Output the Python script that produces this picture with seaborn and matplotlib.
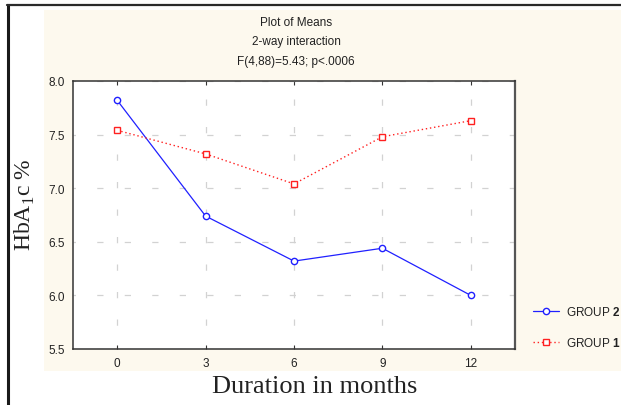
import pandas as pd
import matplotlib
matplotlib.use("Agg")
import matplotlib.pyplot as plt
from matplotlib.lines import Line2D
from matplotlib.patches import Rectangle
import seaborn as sns

# data
months = [0, 3, 6, 9, 12]
group2 = [7.82, 6.74, 6.32, 6.44, 6.00]
group1 = [7.54, 7.32, 7.04, 7.48, 7.63]
group_names = ["GROUP 2", "GROUP 1"]
title_lines = ["Plot of Means", "2-way interaction", "F(4,88)=5.43; p<.0006"]

df = pd.DataFrame({
    "month": months * 2,
    "hba1c": group2 + group1,
    "group": [group_names[0]] * len(months) + [group_names[1]] * len(months),
})

sns.set_style("white")
plt.rcParams["font.family"] = ["Liberation Sans Narrow", "Liberation Sans", "DejaVu Sans"]
plt.rcParams["mathtext.fontset"] = "custom"
plt.rcParams["mathtext.bf"] = "Liberation Sans:bold"

narrow = ["Liberation Sans Narrow", "Liberation Sans", "DejaVu Sans"]
serif = ["Liberation Serif", "DejaVu Serif"]
cream = "#fdf9ee"

fig = plt.figure(figsize=(6.21, 4.06), dpi=100)
fig.patch.set_facecolor("white")

# cream panel behind the statistica-style plot
fig.patches.append(Rectangle((44 / 621, 1 - 372 / 406), 1 - 44 / 621, (372 - 11) / 406,
                             transform=fig.transFigure, facecolor=cream,
                             edgecolor="none", zorder=-5))
# black frame on left and top
fig.add_artist(Line2D([7.5 / 621, 7.5 / 621], [0, 1 - 5.5 / 406], transform=fig.transFigure,
                      color="#1a1a1a", lw=2.2))
fig.add_artist(Line2D([6.5 / 621, 1], [1 - 6 / 406, 1 - 6 / 406], transform=fig.transFigure,
                      color="#2a2a2a", lw=1.6))

ax = fig.add_axes([73 / 621, 1 - 350 / 406, (515 - 73) / 621, (350 - 82) / 406])
ax.set_facecolor("white")

styles = {
    "GROUP 2": dict(color="#2020ff", marker="o", linestyle="-", lw=0.9, ms=4.5),
    "GROUP 1": dict(color="#ff2020", marker="s", linestyle=(0, (1, 2)), lw=1.0, ms=4.8),
}
for name in group_names:
    st = styles[name]
    sub = df[df["group"] == name]
    sns.lineplot(data=sub, x="month", y="hba1c", ax=ax, color=st["color"],
                 marker=st["marker"], linestyle=st["linestyle"], lw=st["lw"],
                 markersize=st["ms"], markerfacecolor="white",
                 markeredgecolor=st["color"], markeredgewidth=1.0,
                 label="GROUP $\\mathbf{" + name.split()[1] + "}$", zorder=3)

ax.set_xlim(-1.5, 13.5)
ax.set_ylim(5.5, 8.0)
ax.set_xticks(months)
ax.set_yticks([5.5, 6.0, 6.5, 7.0, 7.5, 8.0])
ax.set_yticklabels(["5.5", "6.0", "6.5", "7.0", "7.5", "8.0"])
ax.grid(True, color="#d2d2d2", lw=0.9, linestyle=(3, (5, 17)))
ax.tick_params(axis="x", direction="in", top=True, bottom=True, length=3,
               width=0.8, color="#333333", labelsize=8.5, pad=6)
ax.tick_params(axis="y", length=0, labelsize=8.5, pad=6)
for lab in ax.get_xticklabels() + ax.get_yticklabels():
    lab.set_family(narrow)
    lab.set_color("#222222")
for s in ax.spines.values():
    s.set_color("#333333")
    s.set_linewidth(1.1)
ax.spines["right"].set_color("#555555")
ax.spines["right"].set_linewidth(1.6)

ax.set_xlabel("")
ax.set_ylabel("")

fig.text(25 / 621, 1 - 205 / 406, "HbA$_\\mathregular{1}$c %", rotation=90,
         ha="center", va="center", family=serif, fontsize=17, color="#222222")
fig.text(315 / 621, 1 - 387 / 406, "Duration in months", ha="center", va="center",
         family=serif, fontsize=19, color="#222222")

for i, line in enumerate(title_lines):
    fig.text(296 / 621, 1 - (23 + 19.5 * i) / 406, line, ha="center", va="center",
             family=narrow, fontsize=8.5, color="#222222")

leg = ax.legend(loc="center left", bbox_to_anchor=(533 / 621, 1 - 328 / 406),
                bbox_transform=fig.transFigure, frameon=False, fontsize=8.5,
                handlelength=2.2, handletextpad=0.6, labelspacing=1.55,
                borderpad=0, borderaxespad=0)
for t in leg.get_texts():
    t.set_family(narrow)
    t.set_color("#222222")

fig.savefig("out.png", dpi=100, facecolor=fig.get_facecolor())
